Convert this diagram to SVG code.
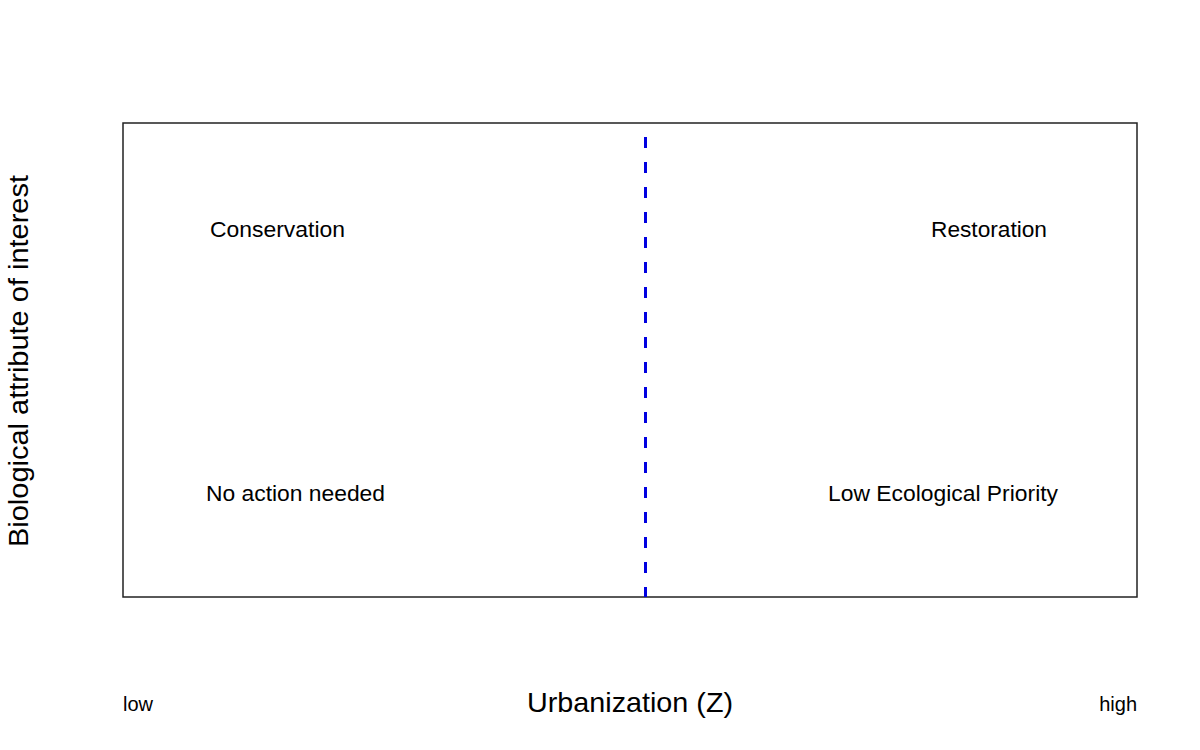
<svg xmlns="http://www.w3.org/2000/svg" width="1200" height="750" viewBox="0 0 1200 750">
<style>
text{font-family:"Liberation Sans",Arial,sans-serif;fill:#000}
.q{font-size:22px;text-anchor:middle}
</style>
<rect width="1200" height="750" fill="#fff"/>
<g id="frame"><rect x="123" y="123" width="1014" height="474" fill="none" stroke="#222" stroke-width="1.5"/></g>
<g id="connectors"><line x1="645.5" y1="137" x2="645.5" y2="597" stroke="#0000e0" stroke-width="3" stroke-dasharray="11 14"/></g>
<g id="conservation"><text class="q" x="277.5" y="237" textLength="135" lengthAdjust="spacingAndGlyphs">Conservation</text></g>
<g id="restoration"><text class="q" x="989" y="237" textLength="116" lengthAdjust="spacingAndGlyphs">Restoration</text></g>
<g id="noaction"><text class="q" x="295.5" y="501" textLength="179" lengthAdjust="spacingAndGlyphs">No action needed</text></g>
<g id="lowpriority"><text class="q" x="943" y="501" textLength="230" lengthAdjust="spacingAndGlyphs">Low Ecological Priority</text></g>
<g id="ylabel"><text x="28" y="361" font-size="27" text-anchor="middle" transform="rotate(-90 28 361)" textLength="372" lengthAdjust="spacingAndGlyphs">Biological attribute of interest</text></g>
<g id="xlabel"><text x="630" y="712" font-size="28" text-anchor="middle" textLength="206" lengthAdjust="spacingAndGlyphs">Urbanization (Z)</text></g>
<g id="low"><text x="123" y="711" font-size="20">low</text></g>
<g id="high"><text x="1137" y="711" font-size="20" text-anchor="end">high</text></g>
</svg>
